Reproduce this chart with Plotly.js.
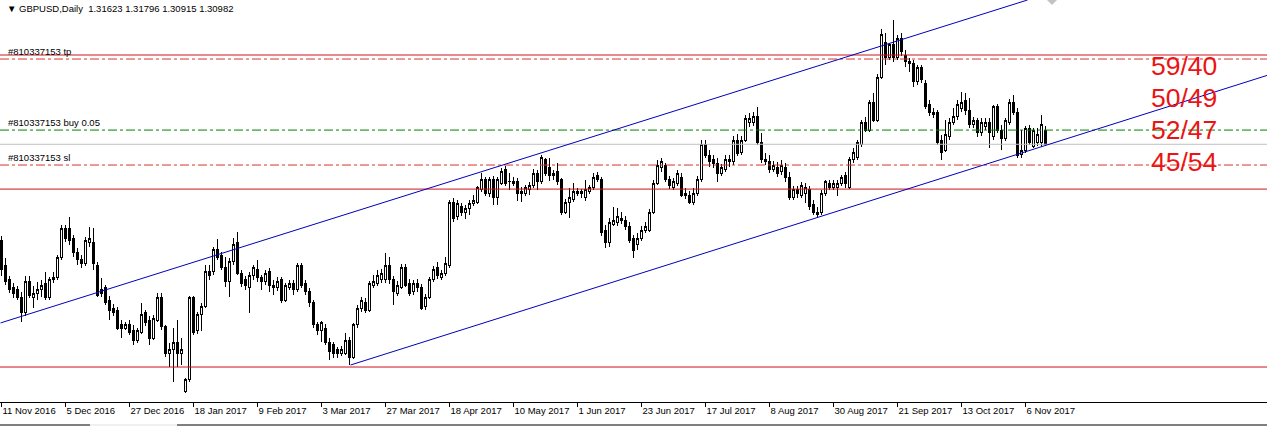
<!DOCTYPE html>
<html><head><meta charset="utf-8">
<script src="https://cdn.plot.ly/plotly-3.0.1.min.js"></script>
<style>html,body{margin:0;padding:0;background:#fff;} #chart{width:1267px;height:426px;}
#chart .boxlayer path{shape-rendering:crispEdges;}</style>
</head><body><div id="chart"></div>
<script>
const symbolTitle = 'GBPUSD,Daily';
const lastBarOHLC = ['1.31623', '1.31796', '1.30915', '1.30982'];

const open = [
1.2668,1.2556,1.2489,1.2457,1.2444,1.2408,1.2341,1.2484,1.2412,1.2430,
1.2444,1.2475,1.2412,1.2489,1.2502,1.2588,1.2722,1.2718,1.2677,1.2614,
1.2579,1.2565,1.2655,1.2655,1.2556,1.2448,1.2453,1.2399,1.2363,1.2354,
1.2287,1.2273,1.2287,1.2260,1.2219,1.2255,1.2341,1.2309,1.2228,1.2309,
1.2412,1.2278,1.2157,1.2175,1.2206,1.2157,1.1990,1.2040,1.2408,1.2264,
1.2332,1.2372,1.2529,1.2525,1.2628,1.2601,1.2547,1.2480,1.2570,1.2655,
1.2520,1.2489,1.2457,1.2507,1.2538,1.2498,1.2480,1.2525,1.2466,1.2453,
1.2489,1.2399,1.2457,1.2471,1.2448,1.2552,1.2475,1.2435,1.2386,1.2287,
1.2264,1.2273,1.2206,1.2197,1.2175,1.2161,1.2161,1.2219,1.2143,1.2287,
1.2363,1.2390,1.2354,1.2466,1.2475,1.2493,1.2489,1.2556,1.2489,1.2430,
1.2457,1.2547,1.2475,1.2435,1.2475,1.2457,1.2368,1.2412,1.2489,1.2543,
1.2498,1.2520,1.2556,1.2839,1.2772,1.2821,1.2790,1.2812,1.2834,1.2839,
1.2893,1.2938,1.2875,1.2942,1.2857,1.2924,1.2987,1.2933,1.2924,1.2933,
1.2888,1.2879,1.2893,1.2911,1.2969,1.2929,1.3028,1.2992,1.2956,1.2974,
1.2938,1.2794,1.2839,1.2852,1.2875,1.2884,1.2857,1.2884,1.2902,1.2956,
1.2938,1.2713,1.2655,1.2740,1.2745,1.2754,1.2758,1.2731,1.2673,1.2646,
1.2677,1.2713,1.2713,1.2794,1.2924,1.2992,1.3001,1.2938,1.2906,1.2924,
1.2951,1.2879,1.2870,1.2839,1.2879,1.2938,1.3095,1.3046,1.3032,1.3014,
1.2969,1.2987,1.3028,1.3019,1.3117,1.3063,1.3117,1.3194,1.3194,1.3221,
1.3108,1.3028,1.3019,1.2987,1.2996,1.2974,1.2996,1.2947,1.2861,1.2893,
1.2866,1.2875,1.2893,1.2826,1.2781,1.2794,1.2879,1.2924,1.2906,1.2906,
1.2924,1.2960,1.2906,1.3028,1.3037,1.3095,1.3194,1.3162,1.3284,1.3207,
1.3400,1.3553,1.3490,1.3544,1.3490,1.3575,1.3499,1.3468,1.3463,1.3378,
1.3441,1.3373,1.3275,1.3230,1.3243,1.3117,1.3072,1.3135,1.3194,1.3221,
1.3261,1.3297,1.3248,1.3185,1.3203,1.3149,1.3176,1.3194,1.3131,1.3266,
1.3162,1.3122,1.3198,1.3284,1.3243,1.3054,1.3072,1.3171,1.3090,1.3108,
1.3104,1.31623];

const high = [
1.2686,1.2588,1.2507,1.2475,1.2462,1.2435,1.2507,1.2507,1.2462,1.2480,
1.2489,1.2525,1.2502,1.2525,1.2601,1.2736,1.2736,1.2772,1.2691,1.2632,
1.2601,1.2682,1.2727,1.2722,1.2570,1.2498,1.2466,1.2417,1.2381,1.2368,
1.2309,1.2300,1.2309,1.2287,1.2273,1.2386,1.2354,1.2327,1.2332,1.2430,
1.2430,1.2287,1.2206,1.2273,1.2309,1.2228,1.2049,1.2417,1.2417,1.2345,
1.2386,1.2556,1.2556,1.2637,1.2673,1.2614,1.2592,1.2588,1.2677,1.2704,
1.2534,1.2507,1.2525,1.2556,1.2579,1.2511,1.2534,1.2543,1.2489,1.2502,
1.2502,1.2475,1.2489,1.2489,1.2565,1.2565,1.2489,1.2453,1.2399,1.2300,
1.2305,1.2291,1.2228,1.2210,1.2188,1.2192,1.2251,1.2233,1.2296,1.2377,
1.2412,1.2408,1.2484,1.2511,1.2534,1.2538,1.2610,1.2592,1.2507,1.2484,
1.2561,1.2561,1.2493,1.2489,1.2493,1.2471,1.2426,1.2502,1.2552,1.2570,
1.2534,1.2592,1.2848,1.2857,1.2848,1.2834,1.2826,1.2848,1.2870,1.2911,
1.2969,1.2951,1.2951,1.2956,1.2951,1.2992,1.3001,1.2969,1.2951,1.2947,
1.2906,1.2915,1.2929,1.2987,1.2983,1.3050,1.3037,1.3037,1.2983,1.3014,
1.2947,1.2852,1.2902,1.2924,1.2902,1.2897,1.2938,1.2915,1.2969,1.2974,
1.2951,1.2736,1.2767,1.2817,1.2812,1.2794,1.2776,1.2749,1.2691,1.2700,
1.2731,1.2749,1.2808,1.2938,1.3028,1.3037,1.3014,1.2956,1.2947,1.2983,
1.2969,1.2902,1.2888,1.2902,1.2956,1.3117,1.3117,1.3072,1.3050,1.3037,
1.3010,1.3050,1.3050,1.3135,1.3144,1.3135,1.3230,1.3239,1.3243,1.3266,
1.3149,1.3059,1.3050,1.3023,1.3019,1.3028,1.3014,1.2974,1.2911,1.2911,
1.2929,1.2924,1.2911,1.2848,1.2817,1.2893,1.2938,1.2938,1.2938,1.2938,
1.2960,1.2974,1.3041,1.3081,1.3117,1.3207,1.3221,1.3297,1.3328,1.3414,
1.3616,1.3598,1.3553,1.3656,1.3589,1.3598,1.3521,1.3486,1.3477,1.3454,
1.3454,1.3387,1.3297,1.3261,1.3252,1.3140,1.3207,1.3216,1.3261,1.3297,
1.3333,1.3328,1.3306,1.3221,1.3216,1.3216,1.3216,1.3216,1.3275,1.3279,
1.3185,1.3216,1.3301,1.3319,1.3261,1.3162,1.3180,1.3185,1.3171,1.3171,
1.3230,1.31796];

const low = [
1.2507,1.2466,1.2430,1.2408,1.2399,1.2300,1.2327,1.2408,1.2363,1.2399,
1.2412,1.2399,1.2399,1.2475,1.2489,1.2579,1.2659,1.2646,1.2592,1.2556,
1.2543,1.2552,1.2637,1.2534,1.2412,1.2412,1.2377,1.2309,1.2327,1.2264,
1.2228,1.2264,1.2242,1.2197,1.2206,1.2246,1.2282,1.2197,1.2219,1.2300,
1.2264,1.2143,1.2098,1.2031,1.2098,1.2107,1.1981,1.2031,1.2242,1.2246,
1.2260,1.2363,1.2489,1.2511,1.2579,1.2534,1.2457,1.2412,1.2556,1.2511,
1.2457,1.2444,1.2341,1.2489,1.2480,1.2444,1.2466,1.2435,1.2421,1.2439,
1.2386,1.2390,1.2444,1.2421,1.2435,1.2453,1.2421,1.2368,1.2273,1.2242,
1.2210,1.2197,1.2130,1.2139,1.2139,1.2148,1.2152,1.2107,1.2134,1.2273,
1.2345,1.2341,1.2345,1.2453,1.2462,1.2475,1.2475,1.2471,1.2377,1.2417,
1.2448,1.2457,1.2417,1.2421,1.2435,1.2354,1.2354,1.2403,1.2480,1.2493,
1.2489,1.2507,1.2543,1.2749,1.2758,1.2776,1.2763,1.2781,1.2821,1.2830,
1.2884,1.2866,1.2861,1.2826,1.2826,1.2915,1.2911,1.2893,1.2911,1.2843,
1.2839,1.2866,1.2870,1.2902,1.2893,1.2920,1.2956,1.2933,1.2938,1.2915,
1.2781,1.2785,1.2767,1.2839,1.2866,1.2857,1.2843,1.2875,1.2893,1.2929,
1.2686,1.2632,1.2637,1.2731,1.2731,1.2740,1.2713,1.2655,1.2588,1.2623,
1.2664,1.2700,1.2704,1.2785,1.2915,1.2974,1.2929,1.2897,1.2893,1.2911,
1.2861,1.2852,1.2830,1.2826,1.2866,1.2929,1.3037,1.2996,1.2992,1.2929,
1.2956,1.2974,1.2996,1.3005,1.3046,1.3050,1.3108,1.3176,1.3180,1.3095,
1.3014,1.3005,1.2969,1.2974,1.2951,1.2960,1.2929,1.2848,1.2848,1.2857,
1.2857,1.2834,1.2803,1.2781,1.2767,1.2781,1.2866,1.2893,1.2893,1.2866,
1.2911,1.2902,1.2897,1.3014,1.3028,1.3086,1.3153,1.3153,1.3198,1.3198,
1.3391,1.3454,1.3477,1.3468,1.3477,1.3495,1.3445,1.3423,1.3355,1.3364,
1.3373,1.3257,1.3225,1.3216,1.3095,1.3028,1.3063,1.3117,1.3185,1.3207,
1.3243,1.3230,1.3171,1.3171,1.3131,1.3135,1.3162,1.3081,1.3117,1.3149,
1.3072,1.3113,1.3185,1.3230,1.3037,1.3037,1.3059,1.3095,1.3081,1.3090,
1.3086,1.30915];

const close = [
1.2534,1.2480,1.2444,1.2430,1.2408,1.2341,1.2484,1.2421,1.2430,1.2448,
1.2466,1.2412,1.2489,1.2502,1.2588,1.2722,1.2677,1.2668,1.2614,1.2579,
1.2565,1.2668,1.2673,1.2565,1.2421,1.2430,1.2390,1.2354,1.2345,1.2273,
1.2273,1.2287,1.2255,1.2219,1.2260,1.2336,1.2296,1.2228,1.2318,1.2412,
1.2278,1.2157,1.2175,1.2206,1.2161,1.2175,1.2040,1.2408,1.2251,1.2332,
1.2372,1.2529,1.2511,1.2628,1.2592,1.2547,1.2480,1.2570,1.2650,1.2520,
1.2475,1.2466,1.2507,1.2543,1.2498,1.2480,1.2520,1.2462,1.2453,1.2484,
1.2399,1.2462,1.2475,1.2444,1.2552,1.2466,1.2435,1.2386,1.2287,1.2260,
1.2296,1.2210,1.2166,1.2161,1.2161,1.2175,1.2219,1.2143,1.2287,1.2363,
1.2395,1.2354,1.2471,1.2480,1.2511,1.2520,1.2556,1.2489,1.2435,1.2466,
1.2547,1.2466,1.2430,1.2471,1.2453,1.2363,1.2412,1.2489,1.2534,1.2507,
1.2520,1.2561,1.2839,1.2767,1.2834,1.2790,1.2812,1.2834,1.2848,1.2902,
1.2942,1.2879,1.2938,1.2861,1.2938,1.2978,1.2924,1.2929,1.2933,1.2879,
1.2879,1.2902,1.2915,1.2969,1.2929,1.3041,1.2969,1.2956,1.2965,1.2929,
1.2790,1.2839,1.2857,1.2884,1.2884,1.2875,1.2897,1.2902,1.2951,1.2942,
1.2700,1.2655,1.2749,1.2754,1.2772,1.2767,1.2727,1.2668,1.2623,1.2677,
1.2713,1.2727,1.2794,1.2924,1.3005,1.3019,1.2938,1.2915,1.2929,1.2969,
1.2870,1.2866,1.2839,1.2879,1.2938,1.3095,1.3050,1.3019,1.3014,1.2969,
1.2992,1.3028,1.3019,1.3117,1.3059,1.3117,1.3216,1.3212,1.3221,1.3108,
1.3028,1.3019,1.2987,1.3001,1.2969,1.3001,1.2947,1.2861,1.2893,1.2875,
1.2911,1.2906,1.2817,1.2790,1.2794,1.2879,1.2929,1.2906,1.2924,1.2924,
1.2947,1.2924,1.3028,1.3063,1.3104,1.3194,1.3162,1.3284,1.3207,1.3400,
1.3589,1.3490,1.3544,1.3490,1.3575,1.3513,1.3468,1.3459,1.3378,1.3441,
1.3387,1.3266,1.3239,1.3243,1.3108,1.3063,1.3140,1.3194,1.3221,1.3279,
1.3288,1.3248,1.3185,1.3203,1.3149,1.3194,1.3194,1.3153,1.3266,1.3162,
1.3122,1.3203,1.3284,1.3243,1.3050,1.3072,1.3171,1.3108,1.3162,1.3140,
1.3185,1.30982];

const tickBarIndex = [0,16,32,48,64,80,96,112,128,144,160,176,192,208,224,240,256];
const tickLabels = ['11 Nov 2016','5 Dec 2016','27 Dec 2016','18 Jan 2017','9 Feb 2017','3 Mar 2017',
  '27 Mar 2017','18 Apr 2017','10 May 2017','1 Jun 2017','23 Jun 2017','17 Jul 2017','8 Aug 2017',
  '30 Aug 2017','21 Sep 2017','13 Oct 2017','6 Nov 2017'];

const orderNames = ['#810337153 tp', '#810337153 buy 0.05', '#810337153 sl'];
const orderPrices = [1.3481, 1.3162, 1.3005];
const orderColors = ['rgb(220,50,40)', 'rgb(0,130,0)', 'rgb(220,50,40)'];
const bidPrice = 1.30982;
const levelPrices = [1.3499, 1.2897, 1.2098];

const upperChannelBar = [-0.25, 256.5];
const upperChannelPrice = [1.2296, 1.3746];
const lowerChannelBar = [87.25, 316.5];
const lowerChannelPrice = [1.2107, 1.3408];

const ratioLabels = ['59/40', '50/49', '52/47', '45/54'];

const barIndex = open.map((_, i) => i);

const candle = {
  type: 'candlestick',
  x: barIndex, open: open, high: high, low: low, close: close,
  increasing: {line: {color: '#000', width: 1}, fillcolor: '#ffffff'},
  decreasing: {line: {color: '#000', width: 1}, fillcolor: '#000000'},
  whiskerwidth: 0,
  hoverinfo: 'skip',
  showlegend: false
};

const shapes = [];
levelPrices.forEach(p => shapes.push({type:'line', xref:'paper', x0:0, x1:1, yref:'y', y0:p, y1:p,
  line:{color:'rgb(205,20,30)', width:1}}));
shapes.push({type:'line', xref:'paper', x0:0, x1:1, yref:'y', y0:bidPrice, y1:bidPrice,
  line:{color:'rgb(192,192,192)', width:1}});
orderPrices.forEach((p, i) => shapes.push({type:'line', xref:'paper', x0:0, x1:1, yref:'y', y0:p, y1:p,
  line:{color:orderColors[i], width:1, dash:'9px,3px,3px,3px'}}));
shapes.push({type:'line', xref:'x', yref:'y', x0:upperChannelBar[0], x1:upperChannelBar[1],
  y0:upperChannelPrice[0], y1:upperChannelPrice[1], line:{color:'rgb(0,0,190)', width:1}});
shapes.push({type:'line', xref:'x', yref:'y', x0:lowerChannelBar[0], x1:lowerChannelBar[1],
  y0:lowerChannelPrice[0], y1:lowerChannelPrice[1], line:{color:'rgb(0,0,190)', width:1}});
// chart-shift marker
shapes.push({type:'path', xref:'paper', yref:'paper', xsizemode:'pixel', ysizemode:'pixel',
  xanchor:0.8303, yanchor:1, path:'M -5 0 L 5 0 L 0 -5 Z', fillcolor:'rgb(195,195,195)', line:{width:0}});
// window bottom strip
shapes.push({type:'line', xref:'paper', yref:'paper', x0:0, x1:90/1267, y0:-23/402, y1:-23/402,
  line:{color:'#000', width:1}});
shapes.push({type:'line', xref:'paper', yref:'paper', x0:90/1267, x1:177/1267, y0:-23/402, y1:-23/402,
  line:{color:'rgb(225,225,225)', width:1}});
shapes.push({type:'line', xref:'paper', yref:'paper', x0:177/1267, x1:1, y0:-23/402, y1:-23/402,
  line:{color:'#000', width:1}});

const annotations = [];
annotations.push({xref:'paper', yref:'paper', x:0.004, y:1, xanchor:'left', yanchor:'top', yshift:-1,
  showarrow:false, align:'left',
  text:'\u25BC\u00A0' + symbolTitle + '\u00A0\u00A0' + lastBarOHLC.join('\u00A0'),
  font:{family:'Liberation Sans, Arial, sans-serif', size:9.5, color:'#000'}});
orderNames.forEach((n, i) => annotations.push({xref:'paper', yref:'y', x:6/1267, y:orderPrices[i],
  xanchor:'left', yanchor:'bottom', yshift:0, showarrow:false, text:n,
  font:{family:'Liberation Sans, Arial, sans-serif', size:9.5, color:'#000'}}));
const ratioY = [66, 98, 130, 162];
ratioLabels.forEach((t, i) => annotations.push({xref:'paper', yref:'paper', x:1149/1267, y:1 - ratioY[i]/402,
  xanchor:'left', yanchor:'middle', showarrow:false, text:t,
  font:{family:'Liberation Sans, Arial, sans-serif', size:26.5, color:'rgb(235,20,20)'}}));

const layout = {
  width: 1267, height: 426,
  margin: {l:0, r:0, t:0, b:24, pad:0},
  paper_bgcolor: '#fff', plot_bgcolor: '#fff',
  showlegend: false,
  boxgap: 0.5,
  xaxis: {
    type:'linear', range:[-0.375, 316.375], fixedrange:true,
    rangeslider:{visible:false},
    tickmode:'array', tickvals: tickBarIndex, ticktext: tickLabels,
    ticks:'outside', ticklen:4, tickcolor:'#000', tickwidth:1,
    ticklabelposition:'outside right',
    tickfont:{family:'Liberation Sans, Arial, sans-serif', size:9.5, color:'#000'},
    showgrid:false, zeroline:false,
    showline:true, linecolor:'#000', linewidth:1, mirror:true
  },
  yaxis: {
    range:[1.1941, 1.3746], fixedrange:true,
    showticklabels:false, ticks:'', showgrid:false, zeroline:false,
    showline:true, linecolor:'#000', linewidth:1, mirror:false
  },
  shapes: shapes,
  annotations: annotations
};

Plotly.newPlot('chart', [candle], layout, {staticPlot:true, displayModeBar:false});
</script></body></html>
